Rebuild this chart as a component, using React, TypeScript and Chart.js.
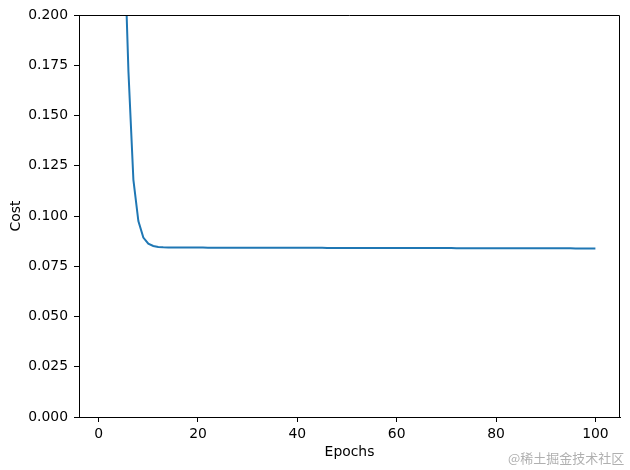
import React, { useEffect, useRef } from "react";
import { Chart, registerables } from "chart.js";

Chart.register(...registerables);

const costValues: number[] = [
  0.693, 0.52, 0.40, 0.31, 0.25, 0.172, 0.118, 0.0975, 0.0893, 0.0862,
  0.0851, 0.0846, 0.0844, 0.08430, 0.08430, 0.08429, 0.08429, 0.08428, 0.08428, 0.08427,
  0.08427, 0.08426, 0.08426, 0.08425, 0.08425, 0.08424, 0.08424, 0.08423, 0.08423, 0.08422,
  0.08422, 0.08421, 0.08421, 0.08420, 0.08420, 0.08419, 0.08419, 0.08418, 0.08418, 0.08417,
  0.08417, 0.08416, 0.08416, 0.08415, 0.08415, 0.08414, 0.08414, 0.08413, 0.08413, 0.08412,
  0.08412, 0.08411, 0.08411, 0.08410, 0.08410, 0.08409, 0.08409, 0.08408, 0.08408, 0.08407,
  0.08407, 0.08406, 0.08406, 0.08405, 0.08405, 0.08404, 0.08404, 0.08403, 0.08403, 0.08402,
  0.08402, 0.08401, 0.08401, 0.08400, 0.08400, 0.08399, 0.08399, 0.08398, 0.08398, 0.08397,
  0.08397, 0.08396, 0.08396, 0.08395, 0.08395, 0.08394, 0.08394, 0.08393, 0.08393, 0.08392,
  0.08392, 0.08391, 0.08391, 0.08390, 0.08390, 0.08389, 0.08389, 0.08388, 0.08388, 0.08387,
];
const epochs: number[] = costValues.map((_, i) => i + 1);

const xTicks: number[] = [0, 20, 40, 60, 80, 100];
const yTicks: number[] = [0, 0.025, 0.05, 0.075, 0.1, 0.125, 0.15, 0.175, 0.2];

const FONT = "'DejaVu Sans', sans-serif";

const boxPlugin = {
  id: "boxPlugin",
  afterDraw(chart: any) {
    const { ctx, chartArea } = chart;
    const l = Math.round(chartArea.left);
    const r = Math.round(chartArea.right) - 0.5;
    const t = Math.round(chartArea.top) + 0.5;
    const b = Math.round(chartArea.bottom);
    ctx.save();
    ctx.strokeStyle = "#000";
    ctx.lineWidth = 1;
    ctx.beginPath();
    ctx.moveTo(l, t);
    ctx.lineTo(r, t);
    ctx.lineTo(r, b);
    ctx.stroke();
    ctx.restore();
  },
};

export default function App() {
  const ref = useRef<HTMLCanvasElement | null>(null);

  useEffect(() => {
    if (!ref.current) return;
    const chart = new Chart(ref.current, {
      type: "line",
      data: {
        datasets: [
          {
            data: epochs.map((e, i) => ({ x: e, y: costValues[i] })),
            borderColor: "#1f77b4",
            borderWidth: 2,
            pointRadius: 0,
            tension: 0,
            fill: false,
            clip: 0,
          } as any,
        ],
      },
      options: {
        animation: false,
        responsive: true,
        maintainAspectRatio: false,
        layout: { padding: { left: 0, top: 15, right: 10, bottom: 0 } },
        plugins: {
          legend: { display: false },
          tooltip: { enabled: false },
        },
        scales: {
          x: {
            type: "linear",
            min: -3.95,
            max: 104.95,
            afterBuildTicks: (scale: any) => {
              scale.ticks = xTicks.map((v) => ({ value: v }));
            },
            afterFit: (scale: any) => {
              scale.height = 53;
            },
            grid: {
              display: true,
              drawOnChartArea: false,
              drawTicks: true,
              tickLength: 5,
              tickColor: "#000",
              tickWidth: 1,
            },
            border: { display: true, color: "#000", width: 1 },
            ticks: {
              color: "#000",
              padding: 4,
              maxRotation: 0,
              autoSkip: false,
              font: { family: FONT, size: 13.9 },
              callback: (v: any) => String(v),
            },
            title: {
              display: true,
              text: "Epochs",
              color: "#000",
              font: { family: FONT, size: 13.9 },
              padding: { top: 0, bottom: 9.6 },
            },
          },
          y: {
            type: "linear",
            min: 0,
            max: 0.2,
            afterBuildTicks: (scale: any) => {
              scale.ticks = yTicks.map((v) => ({ value: v }));
            },
            afterFit: (scale: any) => {
              scale.width = 79;
            },
            grid: {
              display: true,
              drawOnChartArea: false,
              drawTicks: true,
              tickLength: 5,
              tickColor: "#000",
              tickWidth: 1,
            },
            border: { display: true, color: "#000", width: 1 },
            ticks: {
              color: "#000",
              padding: 6,
              autoSkip: false,
              font: { family: FONT, size: 13.9 },
              callback: (v: any) => Number(v).toFixed(3),
            },
            title: {
              display: true,
              text: "Cost",
              color: "#000",
              font: { family: FONT, size: 13.9 },
              padding: { top: 8.3, bottom: 0 },
            },
          },
        },
      },
      plugins: [boxPlugin],
    });
    return () => chart.destroy();
  }, []);

  return (
    <div
      style={{
        position: "absolute",
        left: 0,
        top: 0,
        width: 630,
        height: 470,
        background: "#fff",
      }}
    >
      <canvas ref={ref} />
      <span
        style={{
          position: "absolute",
          left: 508,
          top: 449,
          fontSize: 13,
          lineHeight: "18px",
          color: "#b0b0b0",
          fontFamily: "'Noto Sans CJK SC', sans-serif",
          whiteSpace: "nowrap",
        }}
      >
        @稀土掘金技术社区
      </span>
    </div>
  );
}
